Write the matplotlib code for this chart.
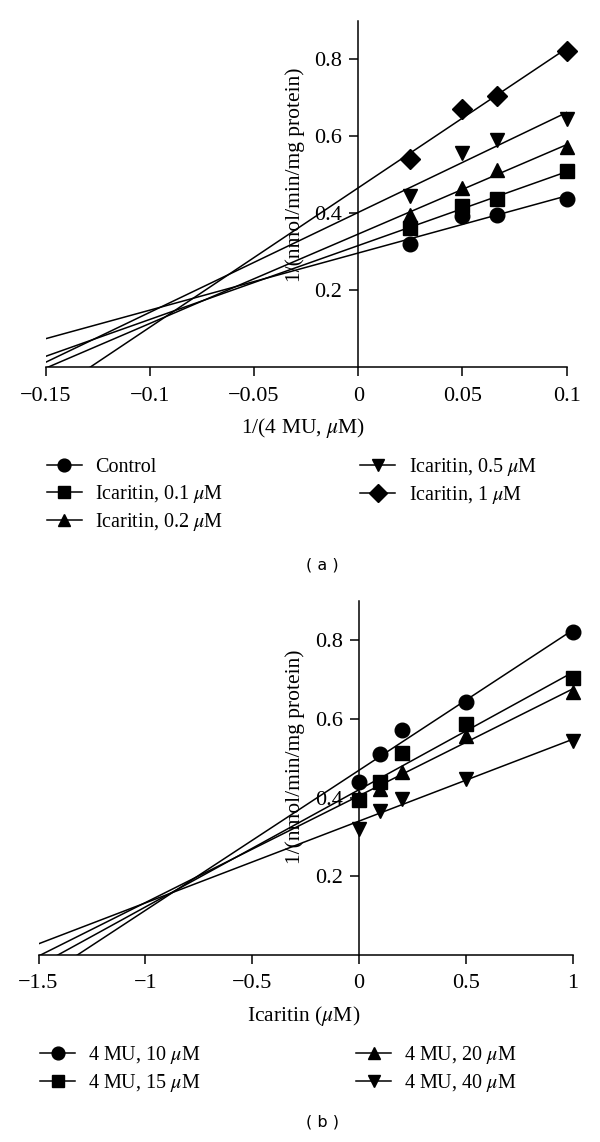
import numpy as np
import matplotlib
matplotlib.use("Agg")
import matplotlib.pyplot as plt
from matplotlib.lines import Line2D

plt.rcParams['font.family'] = ['Liberation Serif', 'DejaVu Serif']
plt.rcParams['mathtext.fontset'] = 'stix'

# ---------- Panel (a) data ----------
x_a = [0.025, 0.05, 0.0667, 0.1]
labels_a = ["Control", "Icaritin, 0.1 $\\mu$M", "Icaritin, 0.2 $\\mu$M",
            "Icaritin, 0.5 $\\mu$M", "Icaritin, 1 $\\mu$M"]
control_a = [0.320, 0.392, 0.397, 0.438]
ica01_a = [0.362, 0.420, 0.438, 0.509]
ica02_a = [0.397, 0.466, 0.512, 0.571]
ica05_a = [0.444, 0.557, 0.591, 0.645]
ica1_a = [0.542, 0.672, 0.704, 0.822]
series_a = [control_a, ica01_a, ica02_a, ica05_a, ica1_a]
markers_a = ['o', 's', '^', 'v', 'D']
xticks_a = [-0.15, -0.1, -0.05, 0, 0.05, 0.1]
xticklabels_a = ["\u22120.15", "\u22120.1", "\u22120.05", "0", "0.05", "0.1"]

# ---------- Panel (b) data ----------
x_b = [0, 0.1, 0.2, 0.5, 1.0]
labels_b = ["4 MU, 10 $\\mu$M", "4 MU, 15 $\\mu$M", "4 MU, 20 $\\mu$M", "4 MU, 40 $\\mu$M"]
mu10_b = [0.440, 0.511, 0.572, 0.643, 0.820]
mu15_b = [0.394, 0.439, 0.512, 0.587, 0.703]
mu20_b = [0.400, 0.422, 0.464, 0.557, 0.667]
mu40_b = [0.321, 0.367, 0.397, 0.446, 0.543]
series_b = [mu10_b, mu15_b, mu20_b, mu40_b]
markers_b = ['o', 's', '^', 'v']
xticks_b = [-1.5, -1, -0.5, 0, 0.5, 1]
xticklabels_b = ["\u22121.5", "\u22121", "\u22120.5", "0", "0.5", "1"]

yticks = [0.2, 0.4, 0.6, 0.8]
yticklabels = ["0.2", "0.4", "0.6", "0.8"]

W, H = 600, 1142
fig = plt.figure(figsize=(W / 100, H / 100), dpi=100)

MK = 10.5      # data marker size
MKD = 9.7      # data diamond size
LMK = 9.2      # legend marker size
LMKD = 9.0     # legend diamond size
LW = 1.1

def style_axes(ax, xlim, xticks, xticklabels):
    ax.set_xlim(*xlim)
    ax.set_ylim(0, 0.9)
    for s in ['top', 'right']:
        ax.spines[s].set_visible(False)
    ax.spines['left'].set_position(('data', 0))
    ax.spines['left'].set_linewidth(LW)
    ax.spines['bottom'].set_linewidth(LW)
    ax.set_xticks(xticks)
    ax.set_xticklabels(xticklabels)
    ax.set_yticks(yticks)
    ax.set_yticklabels(yticklabels)
    ax.tick_params(axis='both', direction='out', length=6.7, width=LW,
                   labelsize=16, pad=4.8)
    ax.tick_params(axis='x', pad=7)
    ax.patch.set_alpha(0)

def draw(ax, xs, series, markers, xlim):
    xx = np.array(xlim)
    for ys, m in zip(series, markers):
        k, b = np.polyfit(xs, ys, 1)
        ax.plot(xx, k * xx + b, color='black', lw=LW, zorder=2)
        ax.plot(xs, ys, linestyle='none', marker=m, color='black',
                markersize=(MKD if m == 'D' else MK), zorder=3, clip_on=False)

def legend_handles(markers):
    return [Line2D([], [], color='black', lw=LW, marker=m,
                   markersize=(LMKD if m == 'D' else LMK)) for m in markers]

# Panel (a): axes pixel box
a_l, a_r, a_t, a_b = 45.7, 566.7, 20.7, 367.5
ax1 = fig.add_axes([a_l / W, 1 - a_b / H, (a_r - a_l) / W, (a_b - a_t) / H])
style_axes(ax1, (-0.15, 0.1), xticks_a, xticklabels_a)
draw(ax1, x_a, series_a, markers_a, (-0.15, 0.1))
ax1.text(0.4785, 0.555, "1/(nmol/min/mg protein)", rotation=90, ha='center', va='center',
         fontsize=15.5, transform=ax1.transAxes)
ax1.text(0.494, -0.175, "1/(4 MU, $\\mu$M)", ha='center', va='center', fontsize=15.5,
         transform=ax1.transAxes)
fig.legend(legend_handles(markers_a), labels_a, ncol=2, loc='upper left',
           bbox_to_anchor=(46.7 / W, 1 - 456 / H), frameon=False, fontsize=14.5,
           handlelength=1.74, handletextpad=0.66, labelspacing=0.3,
           columnspacing=6.8, borderpad=0, borderaxespad=0)
fig.text(322.5 / W, 1 - 565 / H, "( a )", ha='center', va='center', fontsize=11.5,
         family='DejaVu Sans')

# Panel (b): axes pixel box
b_l, b_r, b_t, b_b = 38.5, 572.5, 600.7, 955.0
ax2 = fig.add_axes([b_l / W, 1 - b_b / H, (b_r - b_l) / W, (b_b - b_t) / H])
style_axes(ax2, (-1.5, 1.0), xticks_b, xticklabels_b)
draw(ax2, x_b, series_b, markers_b, (-1.5, 1.0))
ax2.text(0.480, 0.559, "1/(nmol/min/mg protein)", rotation=90, ha='center', va='center',
         fontsize=15.5, transform=ax2.transAxes)
ax2.text(0.497, -0.172, "Icaritin ($\\mu$M)", ha='center', va='center', fontsize=15.5,
         transform=ax2.transAxes)
fig.legend(legend_handles(markers_b), labels_b, ncol=2, loc='upper left',
           bbox_to_anchor=(40 / W, 1 - 1044 / H), frameon=False, fontsize=14.5,
           handlelength=1.74, handletextpad=0.66, labelspacing=0.3,
           columnspacing=7.7, borderpad=0, borderaxespad=0)
fig.text(322 / W, 1 - 1122 / H, "( b )", ha='center', va='center', fontsize=11.5,
         family='DejaVu Sans')

fig.savefig("out.png", dpi=100)
